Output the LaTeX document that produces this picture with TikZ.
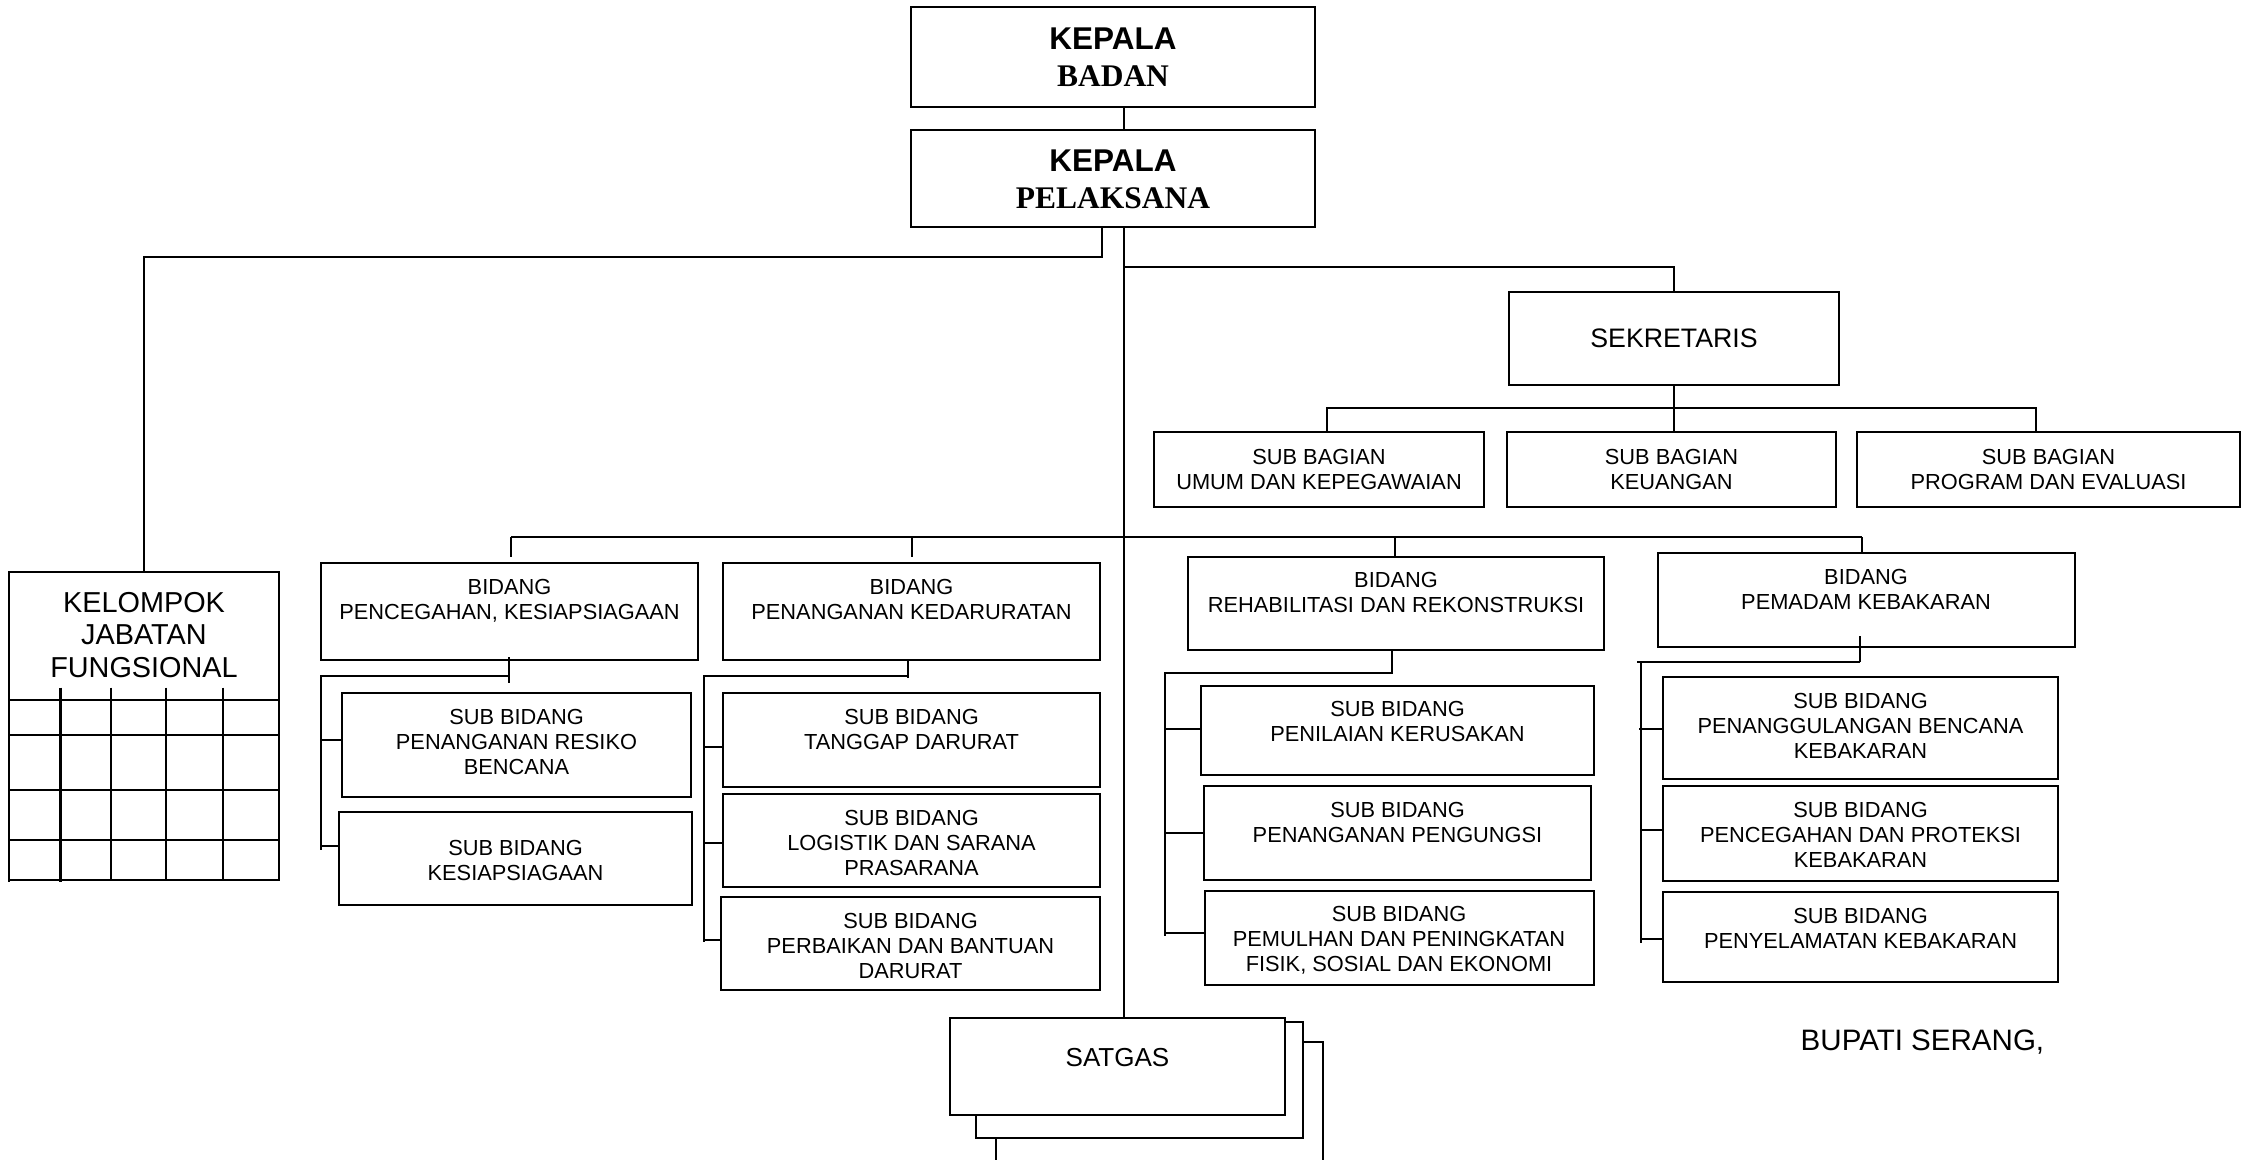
\documentclass[tikz,border=0pt]{standalone}
\usepackage{fontspec}
\setmainfont{Liberation Serif}
\setsansfont{Liberation Sans}
\usetikzlibrary{fit}
\tikzset{
  bx/.style={draw, line width=0.6pt, inner sep=0pt},
  wbx/.style={draw, line width=0.6pt, inner sep=0pt, fill=white},
  ln/.style={line width=0.6pt},
  sm/.style={font=\sffamily\fontsize{6.2}{7.05}\selectfont, align=center, inner sep=0pt, anchor=north},
  lg/.style={font=\sffamily\fontsize{8.2}{9.25}\selectfont, align=center, inner sep=0pt},
  hd/.style={font=\sffamily\bfseries\fontsize{8.95}{10.4}\selectfont, align=center, inner sep=0pt, anchor=north},
}
\begin{document}
\begin{tikzpicture}[x=0.01cm,y=-0.01cm]
\useasboundingbox (0,0) rectangle (2246,1159);
% ---------- boxes ----------
\node[bx, fit={(911,7) (1315,107)}] (kb) {};
\node[bx, fit={(911,130) (1315,227)}] (kp) {};
\node[bx, fit={(1509,292) (1839,385)}] (sek) {};
\node[bx, fit={(1154,432) (1484,507)}] (sb1) {};
\node[bx, fit={(1507,432) (1836,507)}] (sb2) {};
\node[bx, fit={(1857,432) (2240,507)}] (sb3) {};
\node[bx, fit={(9,572) (279,880)}] (kjf) {};
\node[bx, fit={(321,563) (698,660)}] (b1) {};
\node[bx, fit={(723,563) (1100,660)}] (b2) {};
\node[bx, fit={(1188,557) (1604,650)}] (b3) {};
\node[bx, fit={(1658,553) (2075,647)}] (b4) {};
\node[bx, fit={(342,693) (691,797)}] (s1a) {};
\node[bx, fit={(339,812) (692,905)}] (s1b) {};
\node[bx, fit={(723,693) (1100,787)}] (s2a) {};
\node[bx, fit={(723,794) (1100,887)}] (s2b) {};
\node[bx, fit={(721,897) (1100,990)}] (s2c) {};
\node[bx, fit={(1201,686) (1594,775)}] (s3a) {};
\node[bx, fit={(1204,786) (1591,880)}] (s3b) {};
\node[bx, fit={(1205,891) (1594,985)}] (s3c) {};
\node[bx, fit={(1663,677) (2058,779)}] (s4a) {};
\node[bx, fit={(1663,786) (2058,881)}] (s4b) {};
\node[bx, fit={(1663,892) (2058,982)}] (s4c) {};
\node[wbx, fit={(996,1042) (1323,1200)}] (sat3) {};
\node[wbx, fit={(976,1022) (1303,1138)}] (sat2) {};
\node[wbx, fit={(950,1018) (1285,1115)}] (sat) {};
% ---------- texts ----------
\node[hd] (kbt) at (1113,27.4) {KEPALA\\{\rmfamily BADAN}};
\node[hd] (kpt) at (1113,149.4) {KEPALA\\{\rmfamily PELAKSANA}};
\node[lg, font=\sffamily\fontsize{7.6}{9}\selectfont] (sekt) at (sek.center) {SEKRETARIS};
\node[sm] (sb1t) at (1319,449) {SUB BAGIAN\\UMUM DAN KEPEGAWAIAN};
\node[sm] (sb2t) at (1671.5,449) {SUB BAGIAN\\KEUANGAN};
\node[sm] (sb3t) at (2048.5,449) {SUB BAGIAN\\PROGRAM DAN EVALUASI};
\node[lg, anchor=north] (kjft) at (144,591.3) {KELOMPOK\\JABATAN\\FUNGSIONAL};
\node[sm] (b1t) at (509.5,579) {BIDANG\\PENCEGAHAN, KESIAPSIAGAAN};
\node[sm] (b2t) at (911.5,579) {BIDANG\\PENANGANAN KEDARURATAN};
\node[sm] (b3t) at (1396,571.5) {BIDANG\\REHABILITASI DAN REKONSTRUKSI};
\node[sm] (b4t) at (1866,569) {BIDANG\\PEMADAM KEBAKARAN};
\node[sm] (s1at) at (516.5,709) {SUB BIDANG\\PENANGANAN RESIKO\\BENCANA};
\node[sm] (s1bt) at (515.5,839.5) {SUB BIDANG\\KESIAPSIAGAAN};
\node[sm] (s2at) at (911.5,709) {SUB BIDANG\\TANGGAP DARURAT};
\node[sm] (s2bt) at (911.5,809.5) {SUB BIDANG\\LOGISTIK DAN SARANA\\PRASARANA};
\node[sm] (s2ct) at (910.5,913) {SUB BIDANG\\PERBAIKAN DAN BANTUAN\\DARURAT};
\node[sm] (s3at) at (1397.5,701) {SUB BIDANG\\PENILAIAN KERUSAKAN};
\node[sm] (s3bt) at (1397.5,802) {SUB BIDANG\\PENANGANAN PENGUNGSI};
\node[sm] (s3ct) at (1399,906) {SUB BIDANG\\PEMULHAN DAN PENINGKATAN\\FISIK, SOSIAL DAN EKONOMI};
\node[sm] (s4at) at (1860.5,693) {SUB BIDANG\\PENANGGULANGAN BENCANA\\KEBAKARAN};
\node[sm] (s4bt) at (1860.5,801.5) {SUB BIDANG\\PENCEGAHAN DAN PROTEKSI\\KEBAKARAN};
\node[sm] (s4ct) at (1860.5,908) {SUB BIDANG\\PENYELAMATAN KEBAKARAN};
\node[lg, font=\sffamily\fontsize{7.4}{9}\selectfont] (satt) at (1117.5,1057.7) {SATGAS};
\node[lg, font=\sffamily\fontsize{8.4}{9.5}\selectfont, anchor=base west] (bup) at (1800,1050.5) {BUPATI SERANG,};
% ---------- KJF grid ----------
\foreach \y in {700,735,790,840} \draw[ln] (9,\y) -- (279,\y);
\draw[ln] (60.5,687.5) -- (60.5,882);
\foreach \x in {111.3,166.3,223.3} \draw[ln] (\x,687.5) -- (\x,880);
\draw[ln] (9,880) -- (9,882);
% ---------- connectors ----------
\coordinate (m) at (1124,0);
\draw[ln] (kb.south -| m) -- (kp.north -| m);
\coordinate (l1) at (1102,257);
\draw[ln] (kp.south -| l1) -- (l1) -| (kjf.north);
\draw[ln] (kp.south -| m) -- (sat.north -| m);
\coordinate (sj) at (1124,267);
\draw[ln] (sj) -| (sek.north);
\draw[ln] (sek.south) -- (sb2.north -| sek.south);
\coordinate (t1) at (1327,408);
\coordinate (t3) at (2036,408);
\draw[ln] (sb1.north -| t1) -- (t1) -- (t3) -- (sb3.north -| t3);
% bidang bus
\coordinate (bb1) at (511,537);
\coordinate (bb2) at (912,537);
\coordinate (bb3) at (1395,537);
\coordinate (bb4) at (1862,537);
\draw[ln] (bb1) -- (bb4);
\draw[ln, shorten >=0.05cm] (bb1) -- (b1.north -| bb1);
\draw[ln, shorten >=0.05cm] (bb2) -- (b2.north -| bb2);
\draw[ln] (bb3) -- (b3.north -| bb3);
\draw[ln] (bb4) -- (b4.north -| bb4);
% bidang 1
\coordinate (j1) at (509,676);
\coordinate (e1) at (321,850);
\draw[ln] ([yshift=0.04cm]b1.south -| j1) -- (509,683);
\draw[ln] (j1) -| (e1);
\coordinate (k1a) at (321,740);
\coordinate (k1b) at (321,846);
\draw[ln] (k1a) -- (s1a.west |- k1a);
\draw[ln] (k1b) -- (s1b.west |- k1b);
% bidang 2
\coordinate (j2) at (908,676);
\coordinate (e2) at (704,942);
\draw[ln] (b2.south -| j2) -- (908,678);
\draw[ln] (j2) -| (e2);
\coordinate (k2a) at (704,747);
\coordinate (k2b) at (704,843);
\coordinate (k2c) at (704,940);
\draw[ln] (k2a) -- (s2a.west |- k2a);
\draw[ln] (k2b) -- (s2b.west |- k2b);
\draw[ln] (k2c) -- (s2c.west |- k2c);
% bidang 3
\coordinate (j3) at (1392,673);
\coordinate (e3) at (1165,936);
\draw[ln] (b3.south -| j3) -- (j3) -| (e3);
\coordinate (k3a) at (1165,729);
\coordinate (k3b) at (1165,833);
\coordinate (k3c) at (1165,933);
\draw[ln] (k3a) -- (s3a.west |- k3a);
\draw[ln] (k3b) -- (s3b.west |- k3b);
\draw[ln] (k3c) -- (s3c.west |- k3c);
% bidang 4
\coordinate (j4) at (1860,662);
\coordinate (e4) at (1641,943);
\draw[ln] ([yshift=0.12cm]b4.south -| j4) -- (j4);
\draw[ln] (j4) -- (1637,662);
\draw[ln] (1641,662) -- (e4);
\coordinate (k4a) at (1639,729);
\coordinate (k4b) at (1641,830);
\coordinate (k4c) at (1641,939);
\draw[ln] (k4a) -- (s4a.west |- k4a);
\draw[ln] (k4b) -- (s4b.west |- k4b);
\draw[ln] (k4c) -- (s4c.west |- k4c);
\end{tikzpicture}
\end{document}
